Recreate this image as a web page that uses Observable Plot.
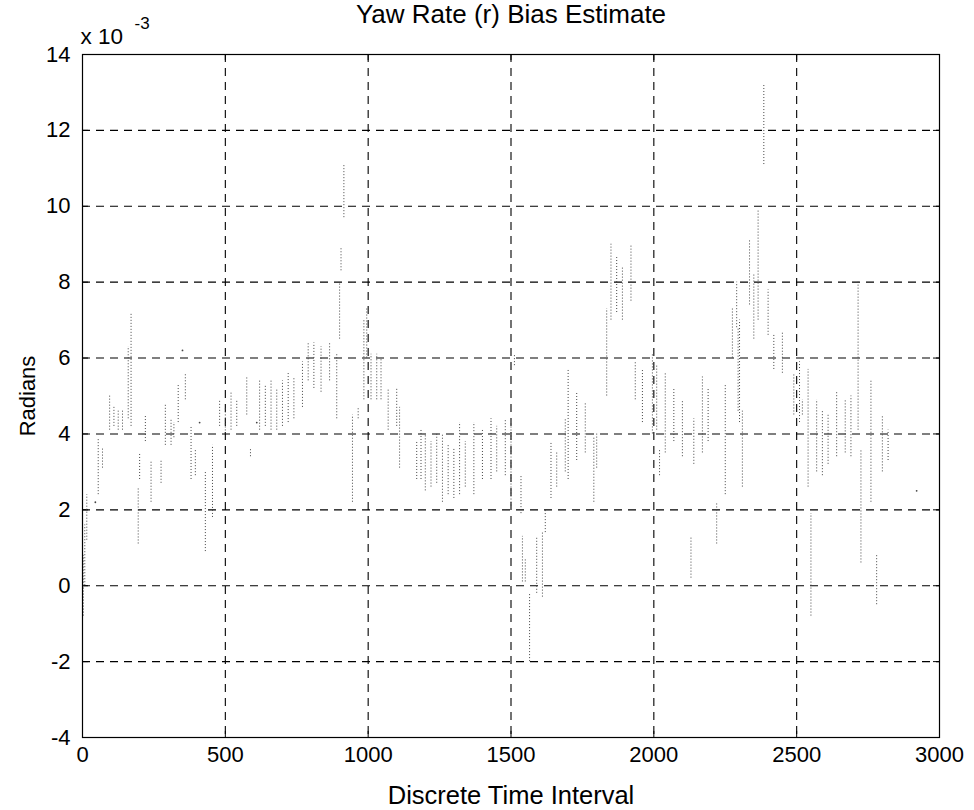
<!DOCTYPE html>
<html>
<head>
<meta charset="utf-8">
<script src="https://cdn.jsdelivr.net/npm/d3@7"></script>
<script src="https://cdn.jsdelivr.net/npm/@observablehq/plot@0.6"></script>
<style>
  html, body { margin: 0; padding: 0; background: #fff; }
  #chart { width: 974px; height: 810px; }
</style>
</head>
<body>
<div id="chart"></div>
<script>
// ---- Data (y in units of 1e-3 rad) ----
const chartTitle = "Yaw Rate (r) Bias Estimate";
const xLabel = "Discrete Time Interval";
const yLabel = "Radians";
const xTicks = [0, 500, 1000, 1500, 2000, 2500, 3000];
const yTicks = [-4, -2, 0, 2, 4, 6, 8, 10, 12, 14];

// dotted vertical runs of estimates: time index, lowest value, highest value
const segX  = [3, 8, 15, 55, 70, 95, 110, 125, 140, 160, 170, 195, 200, 220, 240, 275, 290, 310, 320, 335,
               360, 380, 395, 430, 455, 480, 500, 520, 540, 575, 588, 620, 640, 660, 680, 700, 720, 740, 770, 790,
               810, 835, 865, 890, 900, 905, 915, 945, 965, 985, 995, 1010, 1030, 1045, 1070, 1100, 1110, 1170, 1185, 1200,
               1220, 1240, 1260, 1280, 1300, 1320, 1340, 1370, 1400, 1430, 1450, 1480, 1500, 1512, 1535, 1540, 1550, 1565, 1590, 1610,
               1620, 1640, 1660, 1690, 1700, 1730, 1760, 1790, 1800, 1835, 1850, 1870, 1890, 1920, 1935, 1960, 1995, 2010, 2020, 2040,
               2070, 2100, 2130, 2140, 2170, 2190, 2220, 2250, 2275, 2290, 2295, 2300, 2310, 2335, 2350, 2365, 2385, 2400, 2420, 2450,
               2490, 2510, 2520, 2540, 2550, 2570, 2590, 2610, 2640, 2670, 2690, 2715, 2725, 2760, 2780, 2800, 2820];
const segLo = [-0.8, 0.0, 1.2, 2.4, 3.1, 4.1, 4.2, 4.1, 4.1, 4.4, 4.2, 1.1, 2.8, 3.8, 2.2, 2.7, 3.7, 3.7, 3.9, 4.3,
               4.9, 2.8, 2.9, 0.9, 1.8, 4.2, 4.0, 4.1, 4.2, 4.5, 3.4, 4.1, 4.2, 4.1, 4.1, 4.2, 4.3, 4.4, 4.7, 5.4,
               5.2, 5.1, 5.4, 4.4, 6.5, 8.3, 9.7, 2.2, 4.4, 4.9, 6.0, 4.9, 4.9, 4.9, 4.1, 4.2, 3.1, 2.8, 2.8, 2.5,
               2.6, 2.7, 2.2, 2.4, 2.3, 2.4, 2.6, 2.4, 2.8, 2.8, 3.0, 2.9, 2.1, 5.8, 1.9, 0.1, 0.1, -2.0, -0.2, -0.3,
               1.4, 2.3, 2.6, 3.0, 2.8, 3.3, 3.5, 2.2, 3.1, 5.0, 7.0, 7.2, 7.0, 7.5, 4.9, 4.3, 4.0, 4.1, 2.9, 3.5,
               3.8, 3.4, 0.2, 3.2, 3.5, 3.8, 1.1, 2.4, 6.0, 6.8, 4.6, 4.3, 2.6, 7.4, 6.5, 7.0, 11.1, 6.6, 5.7, 5.6,
               4.5, 4.3, 4.5, 2.6, -0.8, 3.0, 2.9, 3.2, 3.4, 3.5, 3.4, 4.1, 0.6, 2.2, -0.5, 3.0, 3.3];
const segHi = [0.8, 1.6, 2.4, 3.9, 3.6, 5.0, 4.7, 4.6, 4.6, 6.3, 7.2, 2.6, 3.5, 4.5, 3.3, 3.3, 4.8, 4.4, 4.3, 5.3,
               5.6, 4.2, 3.6, 3.0, 3.7, 4.9, 4.7, 5.1, 4.9, 5.5, 3.6, 5.4, 5.3, 5.4, 5.2, 5.4, 5.6, 5.5, 5.9, 6.4,
               6.4, 6.3, 6.4, 6.1, 8.0, 8.9, 11.1, 4.5, 4.7, 7.0, 7.3, 6.1, 6.1, 6.0, 5.2, 5.2, 4.7, 3.8, 4.1, 4.0,
               3.8, 4.0, 4.0, 3.7, 3.6, 4.3, 3.8, 4.3, 4.1, 4.4, 4.2, 4.4, 4.3, 6.1, 2.9, 1.3, 0.7, -0.2, 1.3, 1.4,
               2.0, 3.8, 3.5, 4.4, 5.7, 5.1, 4.8, 3.9, 4.0, 7.3, 9.0, 8.7, 8.4, 9.0, 5.9, 5.7, 6.1, 5.8, 3.6, 5.6,
               5.2, 4.9, 1.3, 4.4, 5.5, 5.2, 2.2, 5.3, 7.3, 8.0, 6.8, 7.0, 4.6, 9.1, 8.2, 9.9, 13.2, 7.8, 6.6, 6.7,
               5.6, 5.9, 4.9, 5.7, 1.9, 4.9, 4.6, 4.5, 5.1, 4.9, 5.0, 8.0, 3.6, 5.4, 0.8, 4.5, 4.1];

// isolated estimates
const ptX = [45, 350, 410, 610, 2920];
const ptY = [2.2, 6.2, 4.3, 4.3, 2.5];

// ---- Build tables for the library ----
const segs = segX.map((x, i) => ({x, lo: segLo[i], hi: segHi[i]}));
const pts = ptX.map((x, i) => ({x, y: ptY[i]}));
const xDomain = [xTicks[0], xTicks[xTicks.length - 1]];
const yDomain = [yTicks[0], yTicks[yTicks.length - 1]];
const tickLenY = (yDomain[1] - yDomain[0]) * 0.009;
const tickLenX = (xDomain[1] - xDomain[0]) * 0.007;

const font = "'Liberation Sans', Arial, Helvetica, sans-serif";

const chart = Plot.plot({
  width: 974,
  height: 810,
  marginTop: 54,
  marginBottom: 73,
  marginLeft: 82,
  marginRight: 35,
  style: {fontFamily: font, fontSize: "22px", color: "#000", background: "#fff"},
  x: {domain: xDomain},
  y: {domain: yDomain},
  marks: [
    // dashed grid
    Plot.ruleX(xTicks.slice(1, -1), {stroke: "#000", strokeWidth: 1.1, strokeDasharray: "8,6"}),
    Plot.ruleY(yTicks.slice(1, -1), {stroke: "#000", strokeWidth: 1.1, strokeDasharray: "8,6"}),
    // inward tick marks on all four sides
    Plot.ruleX(xTicks, {x: d => d, y1: () => yDomain[0], y2: () => yDomain[0] + tickLenY, stroke: "#000"}),
    Plot.ruleX(xTicks, {x: d => d, y1: () => yDomain[1], y2: () => yDomain[1] - tickLenY, stroke: "#000"}),
    Plot.ruleY(yTicks, {y: d => d, x1: () => xDomain[0], x2: () => xDomain[0] + tickLenX, stroke: "#000"}),
    Plot.ruleY(yTicks, {y: d => d, x1: () => xDomain[1], x2: () => xDomain[1] - tickLenX, stroke: "#000"}),
    // the estimates, drawn as dotted vertical runs
    Plot.ruleX(segs, {x: "x", y1: "lo", y2: "hi", stroke: "#444", strokeWidth: 1, strokeDasharray: "1,2"}),
    Plot.dot(pts, {x: "x", y: "y", r: 0.9, fill: "#444", stroke: null}),
    Plot.frame({stroke: "#000", strokeWidth: 1.2}),
    // axes
    Plot.axisX({ticks: xTicks, tickSize: 0, tickPadding: 9, label: null, fontSize: 22, tickFormat: d => String(d)}),
    Plot.axisY({ticks: yTicks, tickSize: 0, tickPadding: 12, label: null, fontSize: 22, tickFormat: d => String(d)}),
    // titles
    Plot.text([chartTitle], {text: d => d, frameAnchor: "top", dy: -32, lineAnchor: "bottom", fontSize: 26, fill: "#000"}),
    Plot.text([xLabel], {text: d => d, frameAnchor: "bottom", dy: 66, lineAnchor: "bottom", fontSize: 25.5, fill: "#000"}),
    Plot.text([yLabel], {text: d => d, frameAnchor: "left", dx: -55, rotate: -90, textAnchor: "middle", lineAnchor: "middle", fontSize: 22, fill: "#000"}),
    Plot.text(["x 10"], {text: d => d, frameAnchor: "top-left", textAnchor: "start", dx: -2, dy: -11, lineAnchor: "bottom", fontSize: 22.5, fill: "#000"}),
    Plot.text(["-3"], {text: d => d, frameAnchor: "top-left", textAnchor: "start", dx: 52, dy: -26, lineAnchor: "bottom", fontSize: 17, fill: "#000"})
  ]
});
document.getElementById("chart").appendChild(chart);
</script>
</body>
</html>
